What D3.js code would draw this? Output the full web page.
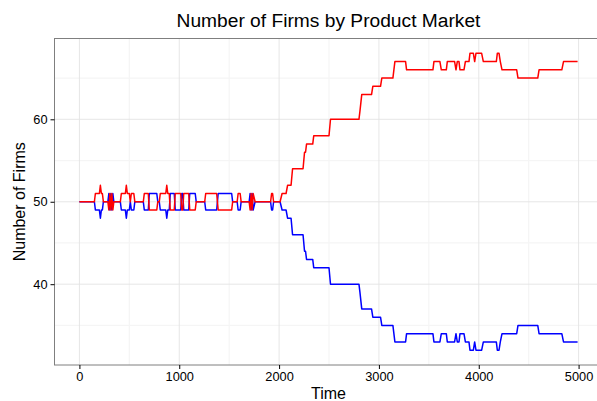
<!DOCTYPE html>
<html><head><meta charset="utf-8">
<script src="https://cdn.jsdelivr.net/npm/d3@7"></script>
<style>body{margin:0;background:#fff;} svg{display:block;font-family:"Liberation Sans",Arial,Helvetica,sans-serif;}</style>
</head><body><svg id="c" width="597" height="401"></svg>
<script>
// ---- data (vertices of the two series) ----
const times = [0,150,160,200,210,220,230,240,285,295,
  305,315,325,335,345,410,420,460,470,480,
  500,510,520,545,555,640,650,690,700,775,
  785,800,810,865,875,885,900,910,950,960,
  1015,1025,1035,1045,1095,1105,1160,1170,1255,1265,
  1375,1390,1525,1535,1580,1590,1610,1620,1700,1710,
  1720,1730,1740,1760,1915,1925,1935,1945,2010,2030,
  2070,2085,2120,2135,2240,2255,2265,2275,2337,2347,
  2500,2515,2800,2810,2828,2926,2939,3016,3029,3140,
  3160,3267,3277,3541,3551,3611,3625,3675,3685,3758,
  3772,3785,3802,3812,3852,3866,3902,3912,3946,3959,
  3972,4029,4046,4176,4186,4203,4216,4233,4380,4393,
  4591,4604,4832,4849,4990];
const redFirms = [50,50,51,51,52,51,51,50,50,49,
  51,49,51,49,50,50,51,51,52,51,
  51,50,51,51,50,50,51,51,49,49,
  50,50,51,51,52,51,51,49,49,51,
  51,49,49,51,51,49,49,50,50,51,
  51,49,49,50,50,51,51,50,50,49,
  51,49,51,50,50,51,51,50,50,51,
  51,52,52,54,54,56,56,57,57,58,
  58,60,60,61,63,63,64,64,65,65,
  67,67,66,66,67,67,66,66,67,67,
  66,67,67,66,66,67,67,68,68,67,
  68,68,67,67,68,68,67,66,66,65,
  65,66,66,67,67];
const blueFirms = [50,50,49,49,48,49,49,50,50,51,
  49,51,49,51,50,50,49,49,48,49,
  49,50,49,49,50,50,49,49,51,51,
  50,50,49,49,48,49,49,51,51,49,
  49,51,51,49,49,51,51,50,50,49,
  49,51,51,50,50,49,49,50,50,51,
  49,51,49,50,50,49,49,50,50,49,
  49,48,48,46,46,44,44,43,43,42,
  42,40,40,39,37,37,36,36,35,35,
  33,33,34,34,33,33,34,34,33,33,
  34,33,33,34,34,33,33,32,32,33,
  32,32,33,33,32,32,33,34,34,35,
  35,34,34,33,33];
const xMajorTicks = [0,1000,2000,3000,4000,5000];
const xMinorTicks = [500,1500,2500,3500,4500];
const yMajorTicks = [40,50,60];
const yMinorTicks = [35,45,55,65];
const chartTitle = "Number of Firms by Product Market";
const xTitle = "Time";
const yTitle = "Number of Firms";

// ---- layout ----
const svg = d3.select("#c");
const P = {left:54.5, right:602.5, top:38.5, bottom:365};

const xExt = d3.extent(times), xPad = (xExt[1]-xExt[0])*0.05;
const x = d3.scaleLinear().domain([xExt[0]-xPad, xExt[1]+xPad]).range([P.left, P.right]);
const yExt = d3.extent(redFirms.concat(blueFirms)), yPad = (yExt[1]-yExt[0])*0.05;
const y = d3.scaleLinear().domain([yExt[0]-yPad, yExt[1]+yPad]).range([P.bottom, P.top]);

svg.append("rect").attr("width",597).attr("height",401).attr("fill","#fff");

const g = svg.append("g");
// minor grid
g.selectAll(".xm").data(xMinorTicks).join("line")
  .attr("x1",d=>x(d)).attr("x2",d=>x(d)).attr("y1",P.top).attr("y2",P.bottom)
  .attr("stroke","#f5f5f5").attr("stroke-width",1.2);
g.selectAll(".ym").data(yMinorTicks).join("line")
  .attr("y1",d=>y(d)).attr("y2",d=>y(d)).attr("x1",P.left).attr("x2",P.right)
  .attr("stroke","#f5f5f5").attr("stroke-width",1.2);
// major grid
g.selectAll(".xM").data(xMajorTicks).join("line")
  .attr("x1",d=>x(d)).attr("x2",d=>x(d)).attr("y1",P.top).attr("y2",P.bottom)
  .attr("stroke","#e3e3e3").attr("stroke-width",0.9);
g.selectAll(".yM").data(yMajorTicks).join("line")
  .attr("y1",d=>y(d)).attr("y2",d=>y(d)).attr("x1",P.left).attr("x2",P.right)
  .attr("stroke","#e3e3e3").attr("stroke-width",0.9);

// series
const pts = s => times.map((t,i)=>[t, s[i]]);
const line = d3.line().x(d=>x(d[0])).y(d=>y(d[1]));
g.append("path").attr("d", line(pts(blueFirms))).attr("fill","none")
  .attr("stroke","#0000ff").attr("stroke-width",1.5).attr("stroke-linejoin","round");
g.append("path").attr("d", line(pts(redFirms))).attr("fill","none")
  .attr("stroke","#ff0000").attr("stroke-width",1.5).attr("stroke-linejoin","round");

// panel border
svg.append("rect").attr("x",P.left).attr("y",P.top)
  .attr("width",P.right-P.left).attr("height",P.bottom-P.top)
  .attr("fill","none").attr("stroke","#7f7f7f").attr("stroke-width",1);

// axes
const xAxis = d3.axisBottom(x).tickValues(xMajorTicks).tickSize(4).tickPadding(3).tickFormat(d3.format("d"));
const ax = svg.append("g").attr("transform",`translate(0,${P.bottom})`).call(xAxis);
ax.select(".domain").remove();
ax.selectAll("line").attr("stroke","#000");
ax.selectAll("text").attr("fill","#000").attr("font-size","12.8px")
  .attr("font-family","'Liberation Sans',Arial,sans-serif");

const yAxis = d3.axisLeft(y).tickValues(yMajorTicks).tickSize(4).tickPadding(3);
const ay = svg.append("g").attr("transform",`translate(${P.left},0)`).call(yAxis);
ay.select(".domain").remove();
ay.selectAll("line").attr("stroke","#000");
ay.selectAll("text").attr("fill","#000").attr("font-size","12.8px")
  .attr("font-family","'Liberation Sans',Arial,sans-serif");

// titles
svg.append("text").attr("x",(P.left+P.right)/2).attr("y",27).attr("text-anchor","middle")
  .attr("font-size","19.2px").attr("fill","#000").text(chartTitle);
svg.append("text").attr("x",(P.left+P.right)/2).attr("y",399).attr("text-anchor","middle")
  .attr("font-size","16px").attr("fill","#000").text(xTitle);
svg.append("text").attr("transform",`translate(25,${(P.top+P.bottom)/2}) rotate(-90)`)
  .attr("text-anchor","middle").attr("font-size","16px").attr("fill","#000").text(yTitle);
</script>
</body></html>
